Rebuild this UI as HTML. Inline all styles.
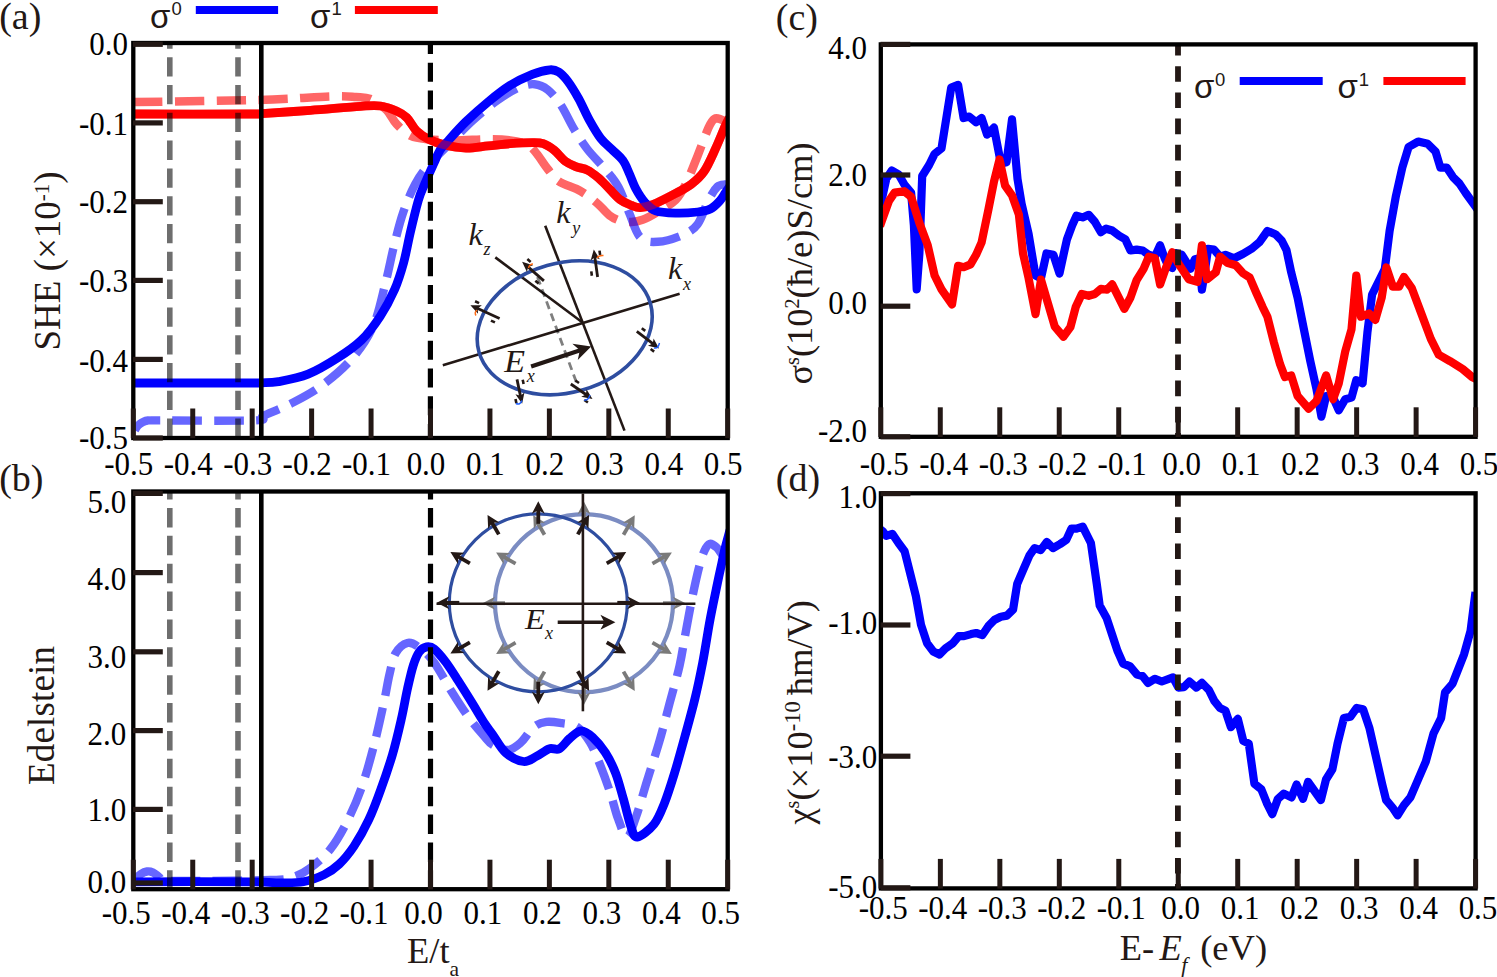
<!DOCTYPE html>
<html><head><meta charset="utf-8"><style>
html,body{margin:0;padding:0;background:#fff;}
svg{display:block;}
</style></head><body>
<svg width="1497" height="977" viewBox="0 0 1497 977" font-family="'Liberation Serif', serif" fill="#000">
<defs>
<clipPath id="ca"><rect x="133.3" y="43.0" width="594.4000000000001" height="395.0"/></clipPath>
<clipPath id="cb"><rect x="133.3" y="491.5" width="594.4000000000001" height="397.70000000000005"/></clipPath>
<clipPath id="cc"><rect x="880.8" y="44.4" width="594.8" height="392.40000000000003"/></clipPath>
<clipPath id="cd"><rect x="880.9" y="493.3" width="594.6999999999999" height="395.09999999999997"/></clipPath>
<marker id="ah" viewBox="0 0 10 10" refX="9" refY="5" markerWidth="3.2" markerHeight="3.2" orient="auto" markerUnits="strokeWidth"><path d="M0,0 L10,5 L0,10 L3,5 z" fill="#231815"/></marker>
</defs>
<g clip-path="url(#ca)">
<path d="M135.0,102.0 C155.5,101.7 225.5,100.9 258.0,100.0 C290.5,99.1 313.7,97.0 330.0,96.5 C346.3,96.0 349.2,96.6 356.0,97.0 C362.8,97.4 365.4,96.8 370.5,99.0 C375.6,101.2 382.2,105.8 386.5,110.0 C390.8,114.2 392.4,119.7 396.5,124.0 C400.6,128.3 405.6,133.4 411.0,136.0 C416.4,138.6 421.3,138.6 428.7,139.3 C436.1,140.0 445.2,140.4 455.1,140.4 C465.0,140.4 479.0,139.3 488.2,139.3 C497.4,139.3 503.6,139.5 510.2,140.4 C516.8,141.3 523.5,142.6 527.9,144.8 C532.3,147.0 533.4,149.6 536.7,153.6 C540.0,157.6 544.0,164.4 547.7,169.0 C551.4,173.6 553.9,177.9 558.7,181.2 C563.5,184.5 571.6,186.5 576.4,188.9 C581.2,191.3 583.7,192.9 587.4,195.5 C591.1,198.1 594.7,201.0 598.4,204.3 C602.1,207.6 605.7,212.5 609.4,215.3 C613.1,218.1 616.8,219.8 620.5,220.9 C624.2,222.0 627.8,222.2 631.5,222.0 C635.2,221.8 638.5,221.3 642.5,219.8 C646.5,218.3 650.2,216.4 655.7,213.1 C661.2,209.8 670.5,205.0 675.6,199.9 C680.8,194.8 682.9,189.7 686.6,182.3 C690.3,175.0 693.9,164.9 697.6,155.8 C701.3,146.7 705.8,133.7 708.6,127.5 C711.4,121.3 712.4,120.1 714.5,118.8 C716.6,117.5 718.4,118.6 721.0,119.5 C723.6,120.4 728.5,123.2 730.0,124.0" fill="none" stroke="#ff0000" stroke-opacity="0.6" stroke-width="8.5" stroke-dasharray="29.3 12.4" stroke-dashoffset="1.7"/>
<path d="M134.0,431.5 C134.7,430.5 136.5,427.1 138.0,425.5 C139.5,423.9 141.3,422.8 143.0,422.0 C144.7,421.2 145.2,420.8 148.0,420.5 C150.8,420.2 142.2,420.4 160.0,420.4 C177.8,420.4 237.4,421.2 254.7,420.4 C272.0,419.6 257.2,418.7 263.6,415.7 C270.0,412.7 283.4,407.6 293.3,402.4 C303.2,397.2 313.1,392.0 323.0,384.6 C332.9,377.2 344.3,367.7 352.7,357.8 C361.1,347.9 368.1,337.6 373.5,325.2 C378.9,312.8 381.9,297.0 385.3,283.6 C388.8,270.2 391.2,256.9 394.2,245.0 C397.2,233.1 399.7,222.5 403.2,212.4 C406.7,202.3 410.8,192.3 415.0,184.5 C419.2,176.7 422.2,172.5 428.2,165.5 C434.1,158.5 443.3,150.1 450.7,142.6 C458.1,135.1 465.1,127.5 472.8,120.5 C480.5,113.5 489.3,106.2 497.0,100.7 C504.7,95.2 512.8,90.2 519.0,87.5 C525.2,84.8 529.7,83.8 534.5,84.2 C539.3,84.6 543.3,86.2 547.7,89.7 C552.1,93.2 556.5,98.5 560.9,105.1 C565.3,111.7 569.8,122.1 574.2,129.4 C578.6,136.8 582.3,142.6 587.4,149.2 C592.5,155.8 599.9,162.8 605.0,169.0 C610.1,175.2 614.2,179.3 618.3,186.7 C622.3,194.0 625.6,204.6 629.3,213.1 C633.0,221.6 635.5,232.6 640.3,237.4 C645.1,242.2 650.9,242.2 657.9,241.8 C664.9,241.4 675.6,238.1 682.2,235.2 C688.8,232.3 693.2,230.1 697.6,224.2 C702.0,218.3 705.3,206.2 708.6,199.9 C711.9,193.7 714.7,189.3 717.5,186.7 C720.3,184.1 723.1,184.9 725.2,184.5 C727.3,184.1 729.2,184.1 730.0,184.0" fill="none" stroke="#0000ff" stroke-opacity="0.6" stroke-width="8.4" stroke-dasharray="29.5 12.2" stroke-dashoffset="-1.8"/>
<path d="M135.0,114.0 C154.2,114.0 228.8,114.1 250.0,114.0 C271.2,113.9 251.9,114.2 262.0,113.6 C272.1,113.0 294.0,111.5 310.4,110.3 C326.8,109.1 348.8,107.0 360.5,106.3 C372.2,105.6 374.5,105.2 380.5,106.0 C386.5,106.8 392.1,109.1 396.5,111.0 C400.9,112.9 403.2,114.2 406.6,117.5 C410.0,120.8 412.9,127.4 416.6,131.0 C420.3,134.6 424.1,137.0 428.7,139.3 C433.3,141.6 437.9,143.3 444.1,144.8 C450.3,146.3 458.8,147.9 466.1,148.1 C473.5,148.3 480.9,146.6 488.2,145.9 C495.5,145.2 502.9,144.2 510.2,143.7 C517.5,143.1 526.8,142.6 532.3,142.6 C537.8,142.6 539.6,142.4 543.3,143.7 C547.0,145.0 550.6,147.4 554.3,150.3 C558.0,153.2 561.6,158.6 565.3,161.3 C569.0,164.1 572.7,165.3 576.4,166.8 C580.1,168.3 583.7,168.2 587.4,170.1 C591.1,171.9 594.7,174.8 598.4,177.9 C602.1,181.0 605.7,185.2 609.4,188.9 C613.1,192.6 616.8,197.2 620.5,199.9 C624.2,202.7 628.2,204.1 631.5,205.4 C634.8,206.7 636.6,207.8 640.3,207.6 C644.0,207.4 647.6,206.7 653.5,204.3 C659.4,201.9 669.4,196.6 675.6,193.3 C681.9,190.0 686.2,188.2 691.0,184.5 C695.8,180.8 700.2,177.2 704.2,171.3 C708.2,165.4 711.8,156.8 715.3,149.2 C718.8,141.6 722.8,131.4 725.2,126.0 C727.7,120.6 729.2,118.5 730.0,117.0" fill="none" stroke="#ff0000" stroke-width="8.8"/>
<path d="M135.0,383.0 C154.2,383.0 228.8,383.0 250.0,383.0 C271.2,383.0 257.2,383.0 262.0,382.8 C266.8,382.6 270.8,383.0 278.5,381.6 C286.2,380.2 298.2,378.2 308.1,374.2 C318.0,370.2 328.9,363.5 337.8,357.8 C346.7,352.1 354.5,346.9 361.6,340.0 C368.7,333.1 374.7,324.7 380.2,316.3 C385.7,307.9 390.7,298.4 394.6,289.5 C398.5,280.6 401.0,272.2 403.6,262.8 C406.2,253.4 407.8,243.5 410.2,233.1 C412.6,222.7 416.0,208.5 418.3,200.5 C420.6,192.5 421.7,190.9 424.2,185.0 C426.7,179.1 430.5,170.8 433.1,165.0 C435.8,159.2 437.8,153.8 440.1,150.0 C442.4,146.2 442.7,146.8 447.0,142.0 C451.3,137.2 459.2,128.2 466.1,121.5 C473.0,114.8 480.9,107.8 488.2,101.8 C495.5,95.8 502.9,89.9 510.2,85.3 C517.5,80.7 525.7,76.9 532.3,74.3 C538.9,71.7 545.5,70.2 549.9,69.8 C554.3,69.4 555.8,70.2 558.7,72.0 C561.6,73.8 564.2,76.5 567.5,80.9 C570.8,85.3 574.9,91.9 578.6,98.5 C582.3,105.1 585.9,113.9 589.6,120.5 C593.3,127.1 596.9,133.4 600.6,138.2 C604.3,143.0 607.9,145.5 611.6,149.2 C615.3,152.9 619.8,156.1 622.7,160.2 C625.7,164.2 627.1,168.7 629.3,173.5 C631.5,178.3 633.3,184.1 635.9,188.9 C638.5,193.7 641.4,198.4 644.7,202.1 C648.0,205.8 650.6,209.1 655.7,210.9 C660.9,212.7 668.6,212.9 675.6,213.1 C682.6,213.3 691.7,212.7 697.6,212.0 C703.5,211.3 707.1,210.5 710.8,208.7 C714.5,206.9 717.3,203.6 719.7,201.0 C722.1,198.4 723.5,195.5 725.2,193.0 C726.9,190.5 729.2,187.2 730.0,186.0" fill="none" stroke="#0000ff" stroke-width="8.8"/>
<path d="M135.0,114.0 C154.2,114.0 228.8,114.1 250.0,114.0 C271.2,113.9 251.9,114.2 262.0,113.6 C272.1,113.0 294.0,111.5 310.4,110.3 C326.8,109.1 348.8,107.0 360.5,106.3 C372.2,105.6 374.5,105.2 380.5,106.0 C386.5,106.8 392.1,109.1 396.5,111.0 C400.9,112.9 403.2,114.2 406.6,117.5 C410.0,120.8 412.9,127.4 416.6,131.0 C420.3,134.6 424.1,137.0 428.7,139.3 C433.3,141.6 437.9,143.3 444.1,144.8 C450.3,146.3 458.8,147.9 466.1,148.1 C473.5,148.3 480.9,146.6 488.2,145.9 C495.5,145.2 502.9,144.2 510.2,143.7 C517.5,143.1 526.8,142.6 532.3,142.6 C537.8,142.6 539.6,142.4 543.3,143.7 C547.0,145.0 550.6,147.4 554.3,150.3 C558.0,153.2 561.6,158.6 565.3,161.3 C569.0,164.1 572.7,165.3 576.4,166.8 C580.1,168.3 583.7,168.2 587.4,170.1 C591.1,171.9 594.7,174.8 598.4,177.9 C602.1,181.0 605.7,185.2 609.4,188.9 C613.1,192.6 616.8,197.2 620.5,199.9 C624.2,202.7 628.2,204.1 631.5,205.4 C634.8,206.7 636.6,207.8 640.3,207.6 C644.0,207.4 647.6,206.7 653.5,204.3 C659.4,201.9 669.4,196.6 675.6,193.3 C681.9,190.0 686.2,188.2 691.0,184.5 C695.8,180.8 700.2,177.2 704.2,171.3 C708.2,165.4 711.8,156.8 715.3,149.2 C718.8,141.6 722.8,131.4 725.2,126.0 C727.7,120.6 729.2,118.5 730.0,117.0" fill="none" stroke="#ff0000" stroke-opacity="0.45" stroke-width="8.8"/>
<line x1="169.8" y1="43.0" x2="169.8" y2="438.0" stroke="#000" stroke-opacity="0.57" stroke-width="5.6" stroke-dasharray="19.3 8.5" stroke-dashoffset="13.6"/>
<line x1="238.0" y1="43.0" x2="238.0" y2="438.0" stroke="#000" stroke-opacity="0.57" stroke-width="5.6" stroke-dasharray="19.3 8.5" stroke-dashoffset="13.6"/>
<line x1="261.3" y1="43.0" x2="261.3" y2="438.0" stroke="#000" stroke-width="4.6"/>
<line x1="430.4" y1="43.0" x2="430.4" y2="438.0" stroke="#000" stroke-width="5.2" stroke-dasharray="19 8.8" stroke-dashoffset="8.1"/>
</g>
<g clip-path="url(#cb)">
<path d="M135.0,879.5 C136.0,878.6 139.0,875.3 141.0,874.0 C143.0,872.7 145.0,871.8 147.0,871.5 C149.0,871.2 151.0,871.6 153.0,872.5 C155.0,873.4 157.0,875.7 159.0,877.0 C161.0,878.3 158.2,879.8 165.0,880.5 C171.8,881.2 182.5,881.1 200.0,881.0 C217.5,880.9 254.7,880.6 270.0,880.0 C285.3,879.4 285.0,879.5 291.6,877.6 C298.2,875.7 303.0,873.4 309.4,868.7 C315.8,864.0 323.8,857.6 330.2,849.4 C336.6,841.2 342.6,830.6 348.0,819.7 C353.4,808.8 358.4,797.0 362.8,784.1 C367.2,771.2 371.2,755.9 374.7,742.5 C378.2,729.1 381.1,715.3 383.6,703.9 C386.1,692.5 387.5,682.6 389.5,674.2 C391.5,665.8 392.5,658.6 395.5,653.4 C398.5,648.2 403.4,644.0 407.4,643.0 C411.3,642.0 414.8,644.3 419.2,647.5 C423.6,650.7 428.7,655.0 434.1,662.4 C439.6,669.8 446.0,682.6 451.9,692.0 C457.8,701.4 464.3,711.5 469.7,718.8 C475.1,726.1 480.1,731.6 484.0,736.0 C487.9,740.4 488.8,742.6 492.8,744.9 C496.8,747.2 503.4,750.4 508.1,750.0 C512.8,749.6 516.6,746.2 520.9,742.4 C525.2,738.6 529.4,730.4 533.7,727.0 C538.0,723.6 541.8,722.5 546.5,721.9 C551.2,721.3 556.8,722.4 561.9,723.2 C567.0,724.1 572.5,723.8 577.2,727.0 C581.9,730.2 586.1,736.0 590.0,742.4 C593.9,748.8 596.9,756.9 600.3,765.4 C603.7,773.9 607.5,784.5 610.5,793.5 C613.5,802.5 615.4,811.9 618.2,819.1 C621.0,826.4 624.1,837.4 627.1,837.0 C630.1,836.6 632.9,825.6 636.1,816.6 C639.3,807.6 642.5,795.7 646.3,783.3 C650.1,770.9 655.2,755.6 659.1,742.4 C663.0,729.2 666.0,716.8 669.4,704.0 C672.8,691.2 677.0,677.2 679.6,665.6 C682.2,654.0 683.2,645.7 685.3,634.4 C687.4,623.1 689.9,609.2 692.2,597.9 C694.5,586.6 697.2,574.4 699.2,566.6 C701.2,558.8 702.7,554.7 704.4,550.9 C706.1,547.1 707.6,544.5 709.6,543.9 C711.6,543.3 714.6,545.6 716.6,547.4 C718.6,549.1 719.6,551.3 721.8,554.4 C724.0,557.5 728.6,564.1 730.0,566.0" fill="none" stroke="#0000ff" stroke-opacity="0.6" stroke-width="8.4" stroke-dasharray="29.5 12.2"/>
<path d="M135.0,881.8 C154.2,881.8 225.9,881.6 250.0,881.8 C274.1,882.0 270.8,882.8 279.7,882.8 C288.6,882.8 296.0,883.2 303.4,881.8 C310.8,880.4 318.2,877.5 324.2,874.6 C330.1,871.7 334.2,869.0 339.1,864.3 C344.1,859.6 348.9,853.8 353.9,846.4 C358.8,839.0 364.4,829.1 368.8,819.7 C373.2,810.3 376.7,800.9 380.6,790.0 C384.6,779.1 389.0,766.3 392.5,754.4 C396.0,742.5 398.9,729.7 401.4,718.8 C403.9,707.9 405.4,698.0 407.4,689.1 C409.4,680.2 411.3,671.5 413.3,665.3 C415.3,659.1 417.0,655.1 419.2,652.0 C421.4,648.9 424.2,647.4 426.7,646.9 C429.2,646.4 430.9,646.4 434.1,649.0 C437.3,651.6 442.1,657.2 446.0,662.4 C449.9,667.6 453.4,673.3 457.8,680.2 C462.2,687.1 468.2,696.6 472.7,703.9 C477.2,711.2 481.6,718.9 485.0,724.0 C488.4,729.1 489.4,729.9 492.8,734.7 C496.2,739.5 500.5,748.1 505.6,752.6 C510.7,757.1 518.4,760.9 523.5,761.5 C528.6,762.1 532.0,758.5 536.3,756.4 C540.6,754.3 545.3,750.1 549.1,748.8 C552.9,747.5 555.9,750.5 559.3,748.8 C562.7,747.1 566.0,741.5 569.6,738.5 C573.2,735.5 577.3,731.0 581.1,730.8 C584.9,730.6 588.6,733.6 592.6,737.2 C596.6,740.8 601.6,746.6 605.4,752.6 C609.2,758.6 612.6,765.4 615.6,773.1 C618.6,780.8 620.7,789.7 623.3,798.6 C625.9,807.5 628.6,820.4 631.0,826.8 C633.4,833.2 633.6,837.4 637.4,837.0 C641.2,836.6 649.5,829.7 654.0,824.2 C658.5,818.7 660.8,812.3 664.2,803.8 C667.6,795.3 671.1,784.2 674.5,773.1 C677.9,762.0 681.3,749.6 684.7,737.2 C688.1,724.8 691.9,711.3 694.9,698.9 C697.9,686.5 700.1,675.8 702.6,663.0 C705.1,650.2 707.3,634.8 709.6,622.2 C711.9,609.6 714.6,597.2 716.6,587.4 C718.6,577.5 720.3,569.8 721.8,563.1 C723.2,556.4 723.9,552.9 725.3,547.4 C726.7,541.9 729.2,532.9 730.0,530.0" fill="none" stroke="#0000ff" stroke-width="8.8"/>
<line x1="169.8" y1="491.5" x2="169.8" y2="889.2" stroke="#000" stroke-opacity="0.57" stroke-width="5.6" stroke-dasharray="19.5 8.37" stroke-dashoffset="11.4"/>
<line x1="238.0" y1="491.5" x2="238.0" y2="889.2" stroke="#000" stroke-opacity="0.57" stroke-width="5.6" stroke-dasharray="19.5 8.37" stroke-dashoffset="11.4"/>
<line x1="261.3" y1="491.5" x2="261.3" y2="889.2" stroke="#000" stroke-width="4.6"/>
<line x1="430.5" y1="491.5" x2="430.5" y2="889.2" stroke="#000" stroke-width="5.2" stroke-dasharray="19.5 8.37" stroke-dashoffset="11.4"/>
</g>
<g clip-path="url(#cc)">
<path d="M880.0,205.0 L882.1,198.1 L886.3,178.8 L891.8,170.5 L898.7,174.6 L904.2,184.3 L911.1,192.6 L913.9,225.7 L916.7,289.3 L919.4,253.4 L922.2,176.0 L929.1,165.0 L934.6,153.9 L941.5,148.4 L951.2,87.6 L958.1,84.9 L963.6,118.0 L969.2,116.6 L976.1,122.2 L981.6,118.0 L987.1,134.6 L994.0,127.7 L1000.9,163.6 L1006.5,162.2 L1012.0,119.4 L1017.5,178.8 L1021.6,203.6 L1028.6,234.0 L1035.5,275.5 L1041.0,278.2 L1046.5,253.4 L1053.4,254.8 L1059.5,273.5 L1063.5,254.8 L1067.0,239.2 L1072.2,225.3 L1076.5,215.7 L1082.6,217.4 L1088.7,214.8 L1094.8,221.8 L1100.9,232.2 L1106.1,228.7 L1112.2,230.5 L1119.2,235.7 L1125.3,239.2 L1130.5,250.5 L1136.6,249.6 L1142.7,250.5 L1148.8,254.8 L1154.9,256.6 L1160.1,245.3 L1164.4,257.5 L1167.9,265.3 L1172.3,267.9 L1175.8,253.1 L1181.8,254.8 L1190.5,268.8 L1194.9,259.2 L1199.3,258.3 L1201.9,289.7 L1204.5,274.0 L1208.0,248.8 L1214.0,249.6 L1220.1,256.6 L1225.4,254.8 L1234.1,258.3 L1242.8,254.0 L1251.5,248.8 L1259.5,242.1 L1267.4,231.0 L1275.4,234.2 L1281.7,240.6 L1286.5,250.1 L1291.2,272.3 L1297.6,297.7 L1303.9,329.4 L1310.3,361.1 L1316.6,389.7 L1321.4,416.6 L1326.1,396.0 L1332.5,396.0 L1338.8,410.3 L1345.2,399.2 L1351.5,397.6 L1356.3,380.2 L1362.6,383.3 L1367.4,332.6 L1372.1,294.5 L1380.1,278.6 L1384.8,269.1 L1389.6,231.0 L1395.9,196.1 L1402.3,167.6 L1408.6,147.0 L1418.1,141.6 L1427.7,143.8 L1435.6,151.7 L1440.4,167.6 L1446.7,167.6 L1453.0,177.1 L1459.4,183.5 L1465.7,193.0 L1473.7,204.1 L1478.0,210.0" fill="none" stroke="#0000ff" stroke-width="8.2" stroke-linejoin="round"/>
<path d="M880.0,226.0 L882.1,220.2 L889.0,200.9 L894.6,192.6 L904.2,191.2 L911.1,196.7 L919.4,223.0 L927.7,245.1 L934.6,275.5 L941.5,289.3 L952.0,304.5 L958.1,265.8 L963.6,267.2 L970.5,264.4 L976.1,254.8 L981.6,242.3 L988.5,209.2 L994.0,181.5 L999.5,159.4 L1005.1,185.7 L1012.0,195.4 L1018.9,214.7 L1023.0,253.4 L1028.6,278.2 L1035.5,314.1 L1041.0,279.6 L1047.9,303.1 L1054.8,326.6 L1063.5,336.7 L1070.4,327.1 L1075.7,307.1 L1081.8,294.0 L1088.7,295.8 L1094.8,294.0 L1100.9,288.8 L1107.0,289.7 L1112.2,284.4 L1118.3,296.6 L1124.4,308.8 L1130.5,297.5 L1136.6,280.1 L1143.6,268.8 L1148.8,256.6 L1154.9,258.3 L1160.1,284.4 L1166.2,267.0 L1172.3,252.2 L1178.4,263.5 L1188.8,279.2 L1197.5,281.8 L1201.9,245.3 L1207.1,279.2 L1215.8,272.3 L1220.1,256.6 L1227.1,262.7 L1235.8,265.3 L1242.8,273.1 L1249.7,277.5 L1256.3,292.9 L1262.7,307.2 L1267.4,316.7 L1273.8,342.1 L1280.1,364.3 L1284.9,377.0 L1291.2,375.4 L1297.6,396.0 L1308.7,408.7 L1316.6,400.8 L1326.1,375.4 L1333.1,399.2 L1338.8,383.3 L1345.2,351.6 L1351.5,329.4 L1356.3,275.5 L1361.0,316.7 L1369.0,313.5 L1375.3,319.9 L1381.7,297.7 L1386.4,267.5 L1392.8,286.6 L1399.1,286.6 L1403.9,277.0 L1411.8,288.1 L1421.3,313.5 L1430.8,338.9 L1438.8,354.8 L1449.9,361.1 L1462.6,369.0 L1472.1,377.0 L1478.0,380.0" fill="none" stroke="#ff0000" stroke-width="8.2" stroke-linejoin="round"/>
<line x1="1178" y1="44.4" x2="1178" y2="436.8" stroke="#231815" stroke-width="5.8" stroke-dasharray="15.6 10.6" stroke-dashoffset="4.4"/>
</g>
<g clip-path="url(#cd)">
<path d="M880.0,529.0 L883.1,531.7 L886.2,535.8 L892.3,533.8 L898.5,543.0 L904.6,551.2 L909.7,571.6 L915.9,596.2 L921.0,624.8 L927.1,643.3 L933.3,651.5 L939.4,654.5 L945.5,648.4 L952.7,643.3 L958.8,636.1 L964.0,636.1 L971.1,634.1 L976.2,633.0 L982.4,635.1 L988.5,625.9 L994.7,619.7 L1000.8,616.7 L1006.9,615.6 L1013.1,609.5 L1017.2,583.9 L1023.3,569.6 L1029.5,555.3 L1034.6,548.1 L1040.7,550.1 L1046.8,542.0 L1053.0,548.1 L1060.2,544.0 L1066.3,539.9 L1071.4,528.7 L1076.5,528.7 L1082.7,526.6 L1090.9,543.0 L1096.9,584.9 L1099.7,605.6 L1106.6,618.0 L1112.1,634.6 L1117.6,651.2 L1123.1,663.6 L1130.1,666.4 L1137.0,674.6 L1142.5,676.0 L1148.0,682.9 L1154.9,678.8 L1161.8,681.5 L1172.9,677.4 L1178.4,687.6 L1183.9,687.1 L1189.4,681.5 L1196.4,687.6 L1201.9,682.9 L1208.8,689.8 L1214.3,700.9 L1219.8,707.8 L1225.4,710.6 L1230.9,727.1 L1237.8,718.8 L1243.3,740.9 L1248.8,743.7 L1254.4,783.8 L1261.3,789.3 L1266.8,803.1 L1272.3,814.1 L1277.8,799.0 L1283.8,793.6 L1291.5,797.4 L1296.6,784.6 L1303.0,798.7 L1308.1,782.0 L1314.5,791.0 L1320.9,800.0 L1326.0,779.5 L1332.4,769.3 L1337.5,743.7 L1343.9,718.1 L1350.3,716.8 L1356.7,707.9 L1363.1,709.2 L1369.5,728.3 L1375.9,756.5 L1382.3,784.6 L1386.1,800.0 L1392.5,807.6 L1397.6,815.3 L1404.0,805.1 L1410.4,797.4 L1418.1,779.5 L1425.8,761.6 L1433.5,733.5 L1441.1,718.1 L1445.0,692.5 L1452.6,683.6 L1464.1,654.2 L1470.5,631.2 L1475.5,592.0" fill="none" stroke="#0000ff" stroke-width="8.2" stroke-linejoin="round"/>
<line x1="1177.9" y1="493.3" x2="1177.9" y2="888.4" stroke="#231815" stroke-width="5.8" stroke-dasharray="15.6 10.6" stroke-dashoffset="2.2"/>
</g>
<rect x="133.3" y="43.0" width="594.40" height="395.00" fill="none" stroke="#000" stroke-width="4.3"/>
<rect x="133.3" y="491.5" width="594.40" height="397.70" fill="none" stroke="#000" stroke-width="4.3"/>
<rect x="880.8" y="44.4" width="594.80" height="392.40" fill="none" stroke="#000" stroke-width="4.3"/>
<rect x="880.9" y="493.3" width="594.70" height="395.10" fill="none" stroke="#000" stroke-width="4.3"/>
<line x1="133.30" y1="438.20" x2="133.30" y2="408.50" stroke="#231815" stroke-width="5.0"/>
<line x1="192.74" y1="438.20" x2="192.74" y2="408.50" stroke="#231815" stroke-width="5.0"/>
<line x1="252.18" y1="438.20" x2="252.18" y2="408.50" stroke="#231815" stroke-width="5.0"/>
<line x1="311.62" y1="438.20" x2="311.62" y2="408.50" stroke="#231815" stroke-width="5.0"/>
<line x1="371.06" y1="438.20" x2="371.06" y2="408.50" stroke="#231815" stroke-width="5.0"/>
<line x1="430.50" y1="438.20" x2="430.50" y2="408.50" stroke="#231815" stroke-width="5.0"/>
<line x1="489.94" y1="438.20" x2="489.94" y2="408.50" stroke="#231815" stroke-width="5.0"/>
<line x1="549.38" y1="438.20" x2="549.38" y2="408.50" stroke="#231815" stroke-width="5.0"/>
<line x1="608.82" y1="438.20" x2="608.82" y2="408.50" stroke="#231815" stroke-width="5.0"/>
<line x1="668.26" y1="438.20" x2="668.26" y2="408.50" stroke="#231815" stroke-width="5.0"/>
<line x1="727.70" y1="438.20" x2="727.70" y2="408.50" stroke="#231815" stroke-width="5.0"/>
<line x1="133.30" y1="889.40" x2="133.30" y2="859.70" stroke="#231815" stroke-width="5.0"/>
<line x1="192.74" y1="889.40" x2="192.74" y2="859.70" stroke="#231815" stroke-width="5.0"/>
<line x1="252.18" y1="889.40" x2="252.18" y2="859.70" stroke="#231815" stroke-width="5.0"/>
<line x1="311.62" y1="889.40" x2="311.62" y2="859.70" stroke="#231815" stroke-width="5.0"/>
<line x1="371.06" y1="889.40" x2="371.06" y2="859.70" stroke="#231815" stroke-width="5.0"/>
<line x1="430.50" y1="889.40" x2="430.50" y2="859.70" stroke="#231815" stroke-width="5.0"/>
<line x1="489.94" y1="889.40" x2="489.94" y2="859.70" stroke="#231815" stroke-width="5.0"/>
<line x1="549.38" y1="889.40" x2="549.38" y2="859.70" stroke="#231815" stroke-width="5.0"/>
<line x1="608.82" y1="889.40" x2="608.82" y2="859.70" stroke="#231815" stroke-width="5.0"/>
<line x1="668.26" y1="889.40" x2="668.26" y2="859.70" stroke="#231815" stroke-width="5.0"/>
<line x1="727.70" y1="889.40" x2="727.70" y2="859.70" stroke="#231815" stroke-width="5.0"/>
<line x1="880.80" y1="437.00" x2="880.80" y2="407.30" stroke="#231815" stroke-width="5.0"/>
<line x1="940.28" y1="437.00" x2="940.28" y2="407.30" stroke="#231815" stroke-width="5.0"/>
<line x1="999.76" y1="437.00" x2="999.76" y2="407.30" stroke="#231815" stroke-width="5.0"/>
<line x1="1059.24" y1="437.00" x2="1059.24" y2="407.30" stroke="#231815" stroke-width="5.0"/>
<line x1="1118.72" y1="437.00" x2="1118.72" y2="407.30" stroke="#231815" stroke-width="5.0"/>
<line x1="1178.20" y1="437.00" x2="1178.20" y2="407.30" stroke="#231815" stroke-width="5.0"/>
<line x1="1237.68" y1="437.00" x2="1237.68" y2="407.30" stroke="#231815" stroke-width="5.0"/>
<line x1="1297.16" y1="437.00" x2="1297.16" y2="407.30" stroke="#231815" stroke-width="5.0"/>
<line x1="1356.64" y1="437.00" x2="1356.64" y2="407.30" stroke="#231815" stroke-width="5.0"/>
<line x1="1416.12" y1="437.00" x2="1416.12" y2="407.30" stroke="#231815" stroke-width="5.0"/>
<line x1="1475.60" y1="437.00" x2="1475.60" y2="407.30" stroke="#231815" stroke-width="5.0"/>
<line x1="880.90" y1="888.60" x2="880.90" y2="858.90" stroke="#231815" stroke-width="5.0"/>
<line x1="940.37" y1="888.60" x2="940.37" y2="858.90" stroke="#231815" stroke-width="5.0"/>
<line x1="999.84" y1="888.60" x2="999.84" y2="858.90" stroke="#231815" stroke-width="5.0"/>
<line x1="1059.31" y1="888.60" x2="1059.31" y2="858.90" stroke="#231815" stroke-width="5.0"/>
<line x1="1118.78" y1="888.60" x2="1118.78" y2="858.90" stroke="#231815" stroke-width="5.0"/>
<line x1="1178.25" y1="888.60" x2="1178.25" y2="858.90" stroke="#231815" stroke-width="5.0"/>
<line x1="1237.72" y1="888.60" x2="1237.72" y2="858.90" stroke="#231815" stroke-width="5.0"/>
<line x1="1297.19" y1="888.60" x2="1297.19" y2="858.90" stroke="#231815" stroke-width="5.0"/>
<line x1="1356.66" y1="888.60" x2="1356.66" y2="858.90" stroke="#231815" stroke-width="5.0"/>
<line x1="1416.13" y1="888.60" x2="1416.13" y2="858.90" stroke="#231815" stroke-width="5.0"/>
<line x1="1475.60" y1="888.60" x2="1475.60" y2="858.90" stroke="#231815" stroke-width="5.0"/>
<line x1="133.00" y1="44.30" x2="162.80" y2="44.30" stroke="#231815" stroke-width="5.2"/>
<line x1="133.00" y1="122.90" x2="162.80" y2="122.90" stroke="#231815" stroke-width="5.2"/>
<line x1="133.00" y1="201.70" x2="162.80" y2="201.70" stroke="#231815" stroke-width="5.2"/>
<line x1="133.00" y1="280.40" x2="162.80" y2="280.40" stroke="#231815" stroke-width="5.2"/>
<line x1="133.00" y1="359.40" x2="162.80" y2="359.40" stroke="#231815" stroke-width="5.2"/>
<line x1="133.00" y1="438.00" x2="162.80" y2="438.00" stroke="#231815" stroke-width="5.2"/>
<line x1="133.00" y1="493.40" x2="162.80" y2="493.40" stroke="#231815" stroke-width="5.2"/>
<line x1="133.00" y1="572.60" x2="162.80" y2="572.60" stroke="#231815" stroke-width="5.2"/>
<line x1="133.00" y1="651.80" x2="162.80" y2="651.80" stroke="#231815" stroke-width="5.2"/>
<line x1="133.00" y1="730.60" x2="162.80" y2="730.60" stroke="#231815" stroke-width="5.2"/>
<line x1="133.00" y1="809.40" x2="162.80" y2="809.40" stroke="#231815" stroke-width="5.2"/>
<line x1="133.00" y1="883.00" x2="162.80" y2="883.00" stroke="#231815" stroke-width="5.2"/>
<line x1="880.50" y1="44.40" x2="910.30" y2="44.40" stroke="#231815" stroke-width="5.2"/>
<line x1="880.50" y1="175.00" x2="910.30" y2="175.00" stroke="#231815" stroke-width="5.2"/>
<line x1="880.50" y1="306.20" x2="910.30" y2="306.20" stroke="#231815" stroke-width="5.2"/>
<line x1="880.50" y1="436.80" x2="910.30" y2="436.80" stroke="#231815" stroke-width="5.2"/>
<line x1="880.60" y1="493.60" x2="910.40" y2="493.60" stroke="#231815" stroke-width="5.2"/>
<line x1="880.60" y1="625.00" x2="910.40" y2="625.00" stroke="#231815" stroke-width="5.2"/>
<line x1="880.60" y1="756.20" x2="910.40" y2="756.20" stroke="#231815" stroke-width="5.2"/>
<line x1="880.60" y1="887.80" x2="910.40" y2="887.80" stroke="#231815" stroke-width="5.2"/>
<text transform="translate(128.80,474.85) scale(1.0,1.07)" font-size="31" text-anchor="middle" >-0.5</text>
<text transform="translate(188.24,474.85) scale(1.0,1.07)" font-size="31" text-anchor="middle" >-0.4</text>
<text transform="translate(247.68,474.85) scale(1.0,1.07)" font-size="31" text-anchor="middle" >-0.3</text>
<text transform="translate(307.12,474.85) scale(1.0,1.07)" font-size="31" text-anchor="middle" >-0.2</text>
<text transform="translate(366.56,474.85) scale(1.0,1.07)" font-size="31" text-anchor="middle" >-0.1</text>
<text transform="translate(426.00,474.85) scale(1.0,1.07)" font-size="31" text-anchor="middle" >0.0</text>
<text transform="translate(485.44,474.85) scale(1.0,1.07)" font-size="31" text-anchor="middle" >0.1</text>
<text transform="translate(544.88,474.85) scale(1.0,1.07)" font-size="31" text-anchor="middle" >0.2</text>
<text transform="translate(604.32,474.85) scale(1.0,1.07)" font-size="31" text-anchor="middle" >0.3</text>
<text transform="translate(663.76,474.85) scale(1.0,1.07)" font-size="31" text-anchor="middle" >0.4</text>
<text transform="translate(723.20,474.85) scale(1.0,1.07)" font-size="31" text-anchor="middle" >0.5</text>
<text transform="translate(126.30,924.00) scale(1.0,1.07)" font-size="31" text-anchor="middle" >-0.5</text>
<text transform="translate(185.74,924.00) scale(1.0,1.07)" font-size="31" text-anchor="middle" >-0.4</text>
<text transform="translate(245.18,924.00) scale(1.0,1.07)" font-size="31" text-anchor="middle" >-0.3</text>
<text transform="translate(304.62,924.00) scale(1.0,1.07)" font-size="31" text-anchor="middle" >-0.2</text>
<text transform="translate(364.06,924.00) scale(1.0,1.07)" font-size="31" text-anchor="middle" >-0.1</text>
<text transform="translate(423.50,924.00) scale(1.0,1.07)" font-size="31" text-anchor="middle" >0.0</text>
<text transform="translate(482.94,924.00) scale(1.0,1.07)" font-size="31" text-anchor="middle" >0.1</text>
<text transform="translate(542.38,924.00) scale(1.0,1.07)" font-size="31" text-anchor="middle" >0.2</text>
<text transform="translate(601.82,924.00) scale(1.0,1.07)" font-size="31" text-anchor="middle" >0.3</text>
<text transform="translate(661.26,924.00) scale(1.0,1.07)" font-size="31" text-anchor="middle" >0.4</text>
<text transform="translate(720.70,924.00) scale(1.0,1.07)" font-size="31" text-anchor="middle" >0.5</text>
<text transform="translate(884.20,474.90) scale(1.0,1.07)" font-size="31" text-anchor="middle" >-0.5</text>
<text transform="translate(943.68,474.90) scale(1.0,1.07)" font-size="31" text-anchor="middle" >-0.4</text>
<text transform="translate(1003.16,474.90) scale(1.0,1.07)" font-size="31" text-anchor="middle" >-0.3</text>
<text transform="translate(1062.64,474.90) scale(1.0,1.07)" font-size="31" text-anchor="middle" >-0.2</text>
<text transform="translate(1122.12,474.90) scale(1.0,1.07)" font-size="31" text-anchor="middle" >-0.1</text>
<text transform="translate(1181.60,474.90) scale(1.0,1.07)" font-size="31" text-anchor="middle" >0.0</text>
<text transform="translate(1241.08,474.90) scale(1.0,1.07)" font-size="31" text-anchor="middle" >0.1</text>
<text transform="translate(1300.56,474.90) scale(1.0,1.07)" font-size="31" text-anchor="middle" >0.2</text>
<text transform="translate(1360.04,474.90) scale(1.0,1.07)" font-size="31" text-anchor="middle" >0.3</text>
<text transform="translate(1419.52,474.90) scale(1.0,1.07)" font-size="31" text-anchor="middle" >0.4</text>
<text transform="translate(1479.00,474.90) scale(1.0,1.07)" font-size="31" text-anchor="middle" >0.5</text>
<text transform="translate(883.30,919.10) scale(1.0,1.07)" font-size="31" text-anchor="middle" >-0.5</text>
<text transform="translate(942.77,919.10) scale(1.0,1.07)" font-size="31" text-anchor="middle" >-0.4</text>
<text transform="translate(1002.24,919.10) scale(1.0,1.07)" font-size="31" text-anchor="middle" >-0.3</text>
<text transform="translate(1061.71,919.10) scale(1.0,1.07)" font-size="31" text-anchor="middle" >-0.2</text>
<text transform="translate(1121.18,919.10) scale(1.0,1.07)" font-size="31" text-anchor="middle" >-0.1</text>
<text transform="translate(1180.65,919.10) scale(1.0,1.07)" font-size="31" text-anchor="middle" >0.0</text>
<text transform="translate(1240.12,919.10) scale(1.0,1.07)" font-size="31" text-anchor="middle" >0.1</text>
<text transform="translate(1299.59,919.10) scale(1.0,1.07)" font-size="31" text-anchor="middle" >0.2</text>
<text transform="translate(1359.06,919.10) scale(1.0,1.07)" font-size="31" text-anchor="middle" >0.3</text>
<text transform="translate(1418.53,919.10) scale(1.0,1.07)" font-size="31" text-anchor="middle" >0.4</text>
<text transform="translate(1478.00,919.10) scale(1.0,1.07)" font-size="31" text-anchor="middle" >0.5</text>
<text transform="translate(128.00,55.30) scale(1.0,1.07)" font-size="31" text-anchor="end" >0.0</text>
<text transform="translate(128.00,135.10) scale(1.0,1.07)" font-size="31" text-anchor="end" >-0.1</text>
<text transform="translate(128.00,213.00) scale(1.0,1.07)" font-size="31" text-anchor="end" >-0.2</text>
<text transform="translate(128.00,291.90) scale(1.0,1.07)" font-size="31" text-anchor="end" >-0.3</text>
<text transform="translate(128.00,371.50) scale(1.0,1.07)" font-size="31" text-anchor="end" >-0.4</text>
<text transform="translate(128.00,449.20) scale(1.0,1.07)" font-size="31" text-anchor="end" >-0.5</text>
<text transform="translate(126.30,513.20) scale(1.0,1.07)" font-size="31" text-anchor="end" >5.0</text>
<text transform="translate(126.30,590.00) scale(1.0,1.07)" font-size="31" text-anchor="end" >4.0</text>
<text transform="translate(126.30,667.70) scale(1.0,1.07)" font-size="31" text-anchor="end" >3.0</text>
<text transform="translate(126.30,744.50) scale(1.0,1.07)" font-size="31" text-anchor="end" >2.0</text>
<text transform="translate(126.30,820.70) scale(1.0,1.07)" font-size="31" text-anchor="end" >1.0</text>
<text transform="translate(126.30,892.90) scale(1.0,1.07)" font-size="31" text-anchor="end" >0.0</text>
<text transform="translate(867.00,59.10) scale(1.0,1.07)" font-size="31" text-anchor="end" >4.0</text>
<text transform="translate(867.00,185.90) scale(1.0,1.07)" font-size="31" text-anchor="end" >2.0</text>
<text transform="translate(867.00,313.80) scale(1.0,1.07)" font-size="31" text-anchor="end" >0.0</text>
<text transform="translate(867.00,441.80) scale(1.0,1.07)" font-size="31" text-anchor="end" >-2.0</text>
<text transform="translate(877.30,508.30) scale(1.0,1.07)" font-size="31" text-anchor="end" >1.0</text>
<text transform="translate(877.30,634.40) scale(1.0,1.07)" font-size="31" text-anchor="end" >-1.0</text>
<text transform="translate(877.30,767.80) scale(1.0,1.07)" font-size="31" text-anchor="end" >-3.0</text>
<text transform="translate(877.30,898.00) scale(1.0,1.07)" font-size="31" text-anchor="end" >-5.0</text>
<text x="150" y="27.5" font-size="33" font-family="Liberation Sans" fill="#231815">σ</text>
<text x="171.5" y="14.8" font-size="18.5" font-family="Liberation Sans" fill="#231815">0</text>
<line x1="195.8" y1="10" x2="278.1" y2="10" stroke="#0000ff" stroke-width="8"/>
<text x="310" y="27.5" font-size="33" font-family="Liberation Sans" fill="#231815">σ</text>
<text x="331.5" y="14.8" font-size="18.5" font-family="Liberation Sans" fill="#231815">1</text>
<line x1="354.9" y1="10" x2="437.8" y2="10" stroke="#ff0000" stroke-width="8"/>
<text x="1194" y="97.5" font-size="33" font-family="Liberation Sans" fill="#231815">σ</text>
<text x="1215" y="86.3" font-size="18.5" font-family="Liberation Sans" fill="#231815">0</text>
<line x1="1239.7" y1="81" x2="1322.7" y2="81" stroke="#0000ff" stroke-width="8"/>
<text x="1337.5" y="97.5" font-size="33" font-family="Liberation Sans" fill="#231815">σ</text>
<text x="1358.7" y="86.3" font-size="18.5" font-family="Liberation Sans" fill="#231815">1</text>
<line x1="1383.4" y1="81" x2="1465.6" y2="81" stroke="#ff0000" stroke-width="8"/>
<text x="-0.8" y="29.3" font-size="38" fill="#231815">(a)</text>
<text x="-0.8" y="490.5" font-size="38" fill="#231815">(b)</text>
<text x="775.8" y="29.5" font-size="38" fill="#231815">(c)</text>
<text x="775.8" y="490.5" font-size="38" fill="#231815">(d)</text>
<text x="407" y="962.9" font-size="36.5" fill="#231815">E/t</text>
<text x="449.5" y="975.9" font-size="21.5" fill="#231815">a</text>
<text x="1119.7" y="959.9" font-size="36.5" fill="#231815">E-</text>
<text x="1159.5" y="959.9" font-size="36.5" font-style="italic" fill="#231815">E</text>
<text x="1181.2" y="972.1" font-size="22" font-style="italic" fill="#231815">f</text>
<text x="1200.2" y="959.9" font-size="36.5" fill="#231815">(eV)</text>
<text transform="translate(59.5,350.5) rotate(-90)" font-size="37" fill="#231815">SHE (×10<tspan font-size="21" dy="-11">-1</tspan><tspan dy="11">)</tspan></text>
<text transform="translate(54.3,785) rotate(-90)" font-size="37" letter-spacing="0.15" fill="#231815">Edelstein</text>
<text transform="translate(811.5,384.6) rotate(-90)" font-size="36.5" fill="#231815">σ<tspan font-size="20" dy="-12.5">s</tspan><tspan dy="12.5">(10</tspan><tspan font-size="20" dy="-12.5">2</tspan><tspan dy="12.5">(ħ/e)S/cm)</tspan></text>
<text transform="translate(811.5,824.6) rotate(-90)" font-size="36.5" fill="#231815">χ<tspan font-size="20" dy="-12.5">s</tspan><tspan dy="12.5">(×10</tspan><tspan font-size="22.5" dy="-11.4">-10</tspan><tspan dy="11.4" dx="6">ħm/V)</tspan></text>
<line x1="442.8" y1="365.3" x2="679.6" y2="293.7" stroke="#231815" stroke-width="2.6"/>
<line x1="545.2" y1="225.8" x2="624.5" y2="430.6" stroke="#231815" stroke-width="2.6"/>
<line x1="495.3" y1="257.4" x2="582.2" y2="322.2" stroke="#231815" stroke-width="2.6"/>
<line x1="537.5" y1="277" x2="577.2" y2="384.5" stroke="#000" stroke-opacity="0.5" stroke-width="2.8" stroke-dasharray="8 5"/>
<ellipse cx="564.7" cy="327.8" rx="89.1" ry="64.7" transform="rotate(-15.8 564.7 327.8)" fill="none" stroke="#2e4da0" stroke-width="3.6"/>
<line x1="531.10" y1="366.60" x2="580.29" y2="350.15" stroke="#231815" stroke-width="4.2"/><path d="M591.20,346.50 L577.77,359.95 L579.82,350.31 L572.38,343.83 Z" fill="#231815"/>
<line x1="543.90" y1="280.90" x2="527.73" y2="266.66" stroke="#231815" stroke-width="2.8"/><path d="M522.10,261.70 L533.02,265.19 L528.10,266.99 L526.94,272.09 Z" fill="#231815"/>
<line x1="538.65" y1="283.60" x2="535.34" y2="280.69" stroke="#231815" stroke-width="2.6"/>
<line x1="530.66" y1="261.91" x2="527.35" y2="259.00" stroke="#231815" stroke-width="2.6"/>
<line x1="597.60" y1="277.00" x2="594.82" y2="256.83" stroke="#231815" stroke-width="2.8"/><path d="M593.80,249.40 L599.79,259.17 L594.89,257.33 L590.68,260.43 Z" fill="#231815"/>
<line x1="591.88" y1="275.79" x2="591.28" y2="271.43" stroke="#231815" stroke-width="2.6"/>
<line x1="600.12" y1="254.97" x2="599.52" y2="250.61" stroke="#231815" stroke-width="2.6"/>
<line x1="499.60" y1="318.50" x2="477.23" y2="308.31" stroke="#231815" stroke-width="2.8"/><path d="M470.40,305.20 L481.86,305.37 L477.68,308.52 L478.05,313.74 Z" fill="#231815"/>
<line x1="494.94" y1="322.42" x2="490.94" y2="320.60" stroke="#231815" stroke-width="2.6"/>
<line x1="479.06" y1="303.10" x2="475.06" y2="301.28" stroke="#231815" stroke-width="2.6"/>
<line x1="636.80" y1="331.30" x2="653.16" y2="343.92" stroke="#231815" stroke-width="2.8"/><path d="M659.10,348.50 L647.98,345.73 L652.77,343.61 L653.60,338.44 Z" fill="#231815"/>
<line x1="641.76" y1="328.18" x2="645.25" y2="330.87" stroke="#231815" stroke-width="2.6"/>
<line x1="650.65" y1="348.93" x2="654.14" y2="351.62" stroke="#231815" stroke-width="2.6"/>
<line x1="570.80" y1="384.00" x2="586.33" y2="394.74" stroke="#231815" stroke-width="2.8"/><path d="M592.50,399.00 L581.25,396.81 L585.92,394.45 L586.48,389.25 Z" fill="#231815"/>
<line x1="575.37" y1="380.47" x2="578.99" y2="382.98" stroke="#231815" stroke-width="2.6"/>
<line x1="584.31" y1="400.02" x2="587.93" y2="402.53" stroke="#231815" stroke-width="2.6"/>
<line x1="517.00" y1="379.40" x2="520.56" y2="396.36" stroke="#231815" stroke-width="2.8"/><path d="M522.10,403.70 L515.44,394.37 L520.46,395.87 L524.45,392.48 Z" fill="#231815"/>
<line x1="522.70" y1="379.76" x2="523.60" y2="384.07" stroke="#231815" stroke-width="2.6"/>
<line x1="515.50" y1="399.03" x2="516.40" y2="403.34" stroke="#231815" stroke-width="2.6"/>
<path d="M528.5,268 q1,-4 4.5,-4" fill="none" stroke="#ff6a13" stroke-width="1.4"/>
<path d="M597,258 q2,-3 6.5,-2.5" fill="none" stroke="#ff6a13" stroke-width="1.4"/>
<path d="M476,315.5 q-2,-3 1,-5.5" fill="none" stroke="#ff6a13" stroke-width="1.4"/>
<path d="M654,348 q4,1 5.5,-5" fill="none" stroke="#1a5cff" stroke-width="1.4"/>
<path d="M584,400 q4,1 6,-5" fill="none" stroke="#1a5cff" stroke-width="1.4"/>
<path d="M516,403.5 q4,2 6,-3" fill="none" stroke="#1a5cff" stroke-width="1.4"/>
<text x="468.4" y="245.1" font-size="32" font-family="Liberation Serif" font-style="italic" fill="#231815">k</text><text x="483.4" y="254.9" font-size="18" font-family="Liberation Serif" font-style="italic" fill="#231815">z</text>
<text x="556.2" y="223.1" font-size="32" font-family="Liberation Serif" font-style="italic" fill="#231815">k</text><text x="572.2" y="234" font-size="18" font-family="Liberation Serif" font-style="italic" fill="#231815">y</text>
<text x="668" y="279.1" font-size="32" font-family="Liberation Serif" font-style="italic" fill="#231815">k</text><text x="683" y="290.2" font-size="18" font-family="Liberation Serif" font-style="italic" fill="#231815">x</text>
<text transform="translate(504.2,371.8) scale(1.08,1)" font-size="31.5" font-family="Liberation Serif" font-style="italic" fill="#231815">E</text><text x="526.8" y="382" font-size="18" font-family="Liberation Serif" font-style="italic" fill="#231815">x</text>
<circle cx="584.0" cy="603.2" r="89" fill="none" stroke="#7b8cc2" stroke-width="4.2"/>
<line x1="663.00" y1="603.20" x2="677.00" y2="603.20" stroke="#7a7a7a" stroke-width="3.8"/><path d="M685.50,603.20 L673.00,609.70 L676.50,603.20 L673.00,596.70 Z" fill="#7a7a7a"/>
<line x1="652.42" y1="563.70" x2="664.54" y2="556.70" stroke="#7a7a7a" stroke-width="3.8"/><path d="M671.90,552.45 L664.33,564.33 L664.11,556.95 L657.83,553.07 Z" fill="#7a7a7a"/>
<line x1="623.50" y1="534.78" x2="630.50" y2="522.66" stroke="#7a7a7a" stroke-width="3.8"/><path d="M634.75,515.30 L634.13,529.37 L630.25,523.09 L622.87,522.87 Z" fill="#7a7a7a"/>
<line x1="584.00" y1="524.20" x2="584.00" y2="510.20" stroke="#7a7a7a" stroke-width="3.8"/><path d="M584.00,501.70 L590.50,514.20 L584.00,510.70 L577.50,514.20 Z" fill="#7a7a7a"/>
<line x1="544.50" y1="534.78" x2="537.50" y2="522.66" stroke="#7a7a7a" stroke-width="3.8"/><path d="M533.25,515.30 L545.13,522.87 L537.75,523.09 L533.87,529.37 Z" fill="#7a7a7a"/>
<line x1="515.58" y1="563.70" x2="503.46" y2="556.70" stroke="#7a7a7a" stroke-width="3.8"/><path d="M496.10,552.45 L510.17,553.07 L503.89,556.95 L503.67,564.33 Z" fill="#7a7a7a"/>
<line x1="505.00" y1="603.20" x2="491.00" y2="603.20" stroke="#7a7a7a" stroke-width="3.8"/><path d="M482.50,603.20 L495.00,596.70 L491.50,603.20 L495.00,609.70 Z" fill="#7a7a7a"/>
<line x1="515.58" y1="642.70" x2="503.46" y2="649.70" stroke="#7a7a7a" stroke-width="3.8"/><path d="M496.10,653.95 L503.67,642.07 L503.89,649.45 L510.17,653.33 Z" fill="#7a7a7a"/>
<line x1="544.50" y1="671.62" x2="537.50" y2="683.74" stroke="#7a7a7a" stroke-width="3.8"/><path d="M533.25,691.10 L533.87,677.03 L537.75,683.31 L545.13,683.53 Z" fill="#7a7a7a"/>
<line x1="584.00" y1="682.20" x2="584.00" y2="696.20" stroke="#7a7a7a" stroke-width="3.8"/><path d="M584.00,704.70 L577.50,692.20 L584.00,695.70 L590.50,692.20 Z" fill="#7a7a7a"/>
<line x1="623.50" y1="671.62" x2="630.50" y2="683.74" stroke="#7a7a7a" stroke-width="3.8"/><path d="M634.75,691.10 L622.87,683.53 L630.25,683.31 L634.13,677.03 Z" fill="#7a7a7a"/>
<line x1="652.42" y1="642.70" x2="664.54" y2="649.70" stroke="#7a7a7a" stroke-width="3.8"/><path d="M671.90,653.95 L657.83,653.33 L664.11,649.45 L664.33,642.07 Z" fill="#7a7a7a"/>
<circle cx="538.3" cy="602.8" r="89" fill="none" stroke="#2e4da0" stroke-width="3.2"/>
<line x1="436.5" y1="603.7" x2="695.4" y2="603.7" stroke="#231815" stroke-width="2.6"/>
<line x1="582.9" y1="493.5" x2="582.9" y2="711.3" stroke="#231815" stroke-width="2.6"/>
<line x1="617.30" y1="602.80" x2="631.30" y2="602.80" stroke="#231815" stroke-width="3.8"/><path d="M639.80,602.80 L627.30,609.30 L630.80,602.80 L627.30,596.30 Z" fill="#231815"/>
<line x1="606.72" y1="563.30" x2="618.84" y2="556.30" stroke="#231815" stroke-width="3.8"/><path d="M626.20,552.05 L618.63,563.93 L618.41,556.55 L612.13,552.67 Z" fill="#231815"/>
<line x1="577.80" y1="534.38" x2="584.80" y2="522.26" stroke="#231815" stroke-width="3.8"/><path d="M589.05,514.90 L588.43,528.97 L584.55,522.69 L577.17,522.47 Z" fill="#231815"/>
<line x1="538.30" y1="523.80" x2="538.30" y2="509.80" stroke="#231815" stroke-width="3.8"/><path d="M538.30,501.30 L544.80,513.80 L538.30,510.30 L531.80,513.80 Z" fill="#231815"/>
<line x1="498.80" y1="534.38" x2="491.80" y2="522.26" stroke="#231815" stroke-width="3.8"/><path d="M487.55,514.90 L499.43,522.47 L492.05,522.69 L488.17,528.97 Z" fill="#231815"/>
<line x1="469.88" y1="563.30" x2="457.76" y2="556.30" stroke="#231815" stroke-width="3.8"/><path d="M450.40,552.05 L464.47,552.67 L458.19,556.55 L457.97,563.93 Z" fill="#231815"/>
<line x1="459.30" y1="602.80" x2="445.30" y2="602.80" stroke="#231815" stroke-width="3.8"/><path d="M436.80,602.80 L449.30,596.30 L445.80,602.80 L449.30,609.30 Z" fill="#231815"/>
<line x1="469.88" y1="642.30" x2="457.76" y2="649.30" stroke="#231815" stroke-width="3.8"/><path d="M450.40,653.55 L457.97,641.67 L458.19,649.05 L464.47,652.93 Z" fill="#231815"/>
<line x1="498.80" y1="671.22" x2="491.80" y2="683.34" stroke="#231815" stroke-width="3.8"/><path d="M487.55,690.70 L488.17,676.63 L492.05,682.91 L499.43,683.13 Z" fill="#231815"/>
<line x1="538.30" y1="681.80" x2="538.30" y2="695.80" stroke="#231815" stroke-width="3.8"/><path d="M538.30,704.30 L531.80,691.80 L538.30,695.30 L544.80,691.80 Z" fill="#231815"/>
<line x1="577.80" y1="671.22" x2="584.80" y2="683.34" stroke="#231815" stroke-width="3.8"/><path d="M589.05,690.70 L577.17,683.13 L584.55,682.91 L588.43,676.63 Z" fill="#231815"/>
<line x1="606.72" y1="642.30" x2="618.84" y2="649.30" stroke="#231815" stroke-width="3.8"/><path d="M626.20,653.55 L612.13,652.93 L618.41,649.05 L618.63,641.67 Z" fill="#231815"/>
<line x1="557.70" y1="622.30" x2="604.90" y2="622.30" stroke="#231815" stroke-width="3.4"/><path d="M615.40,622.30 L600.40,629.80 L604.40,622.30 L600.40,614.80 Z" fill="#231815"/>
<text transform="translate(525.1,628.9) scale(1.08,1)" font-size="30" font-family="Liberation Serif" font-style="italic" fill="#231815">E</text><text x="544.9" y="639.2" font-size="18" font-family="Liberation Serif" font-style="italic" fill="#231815">x</text>
</svg></body></html>
